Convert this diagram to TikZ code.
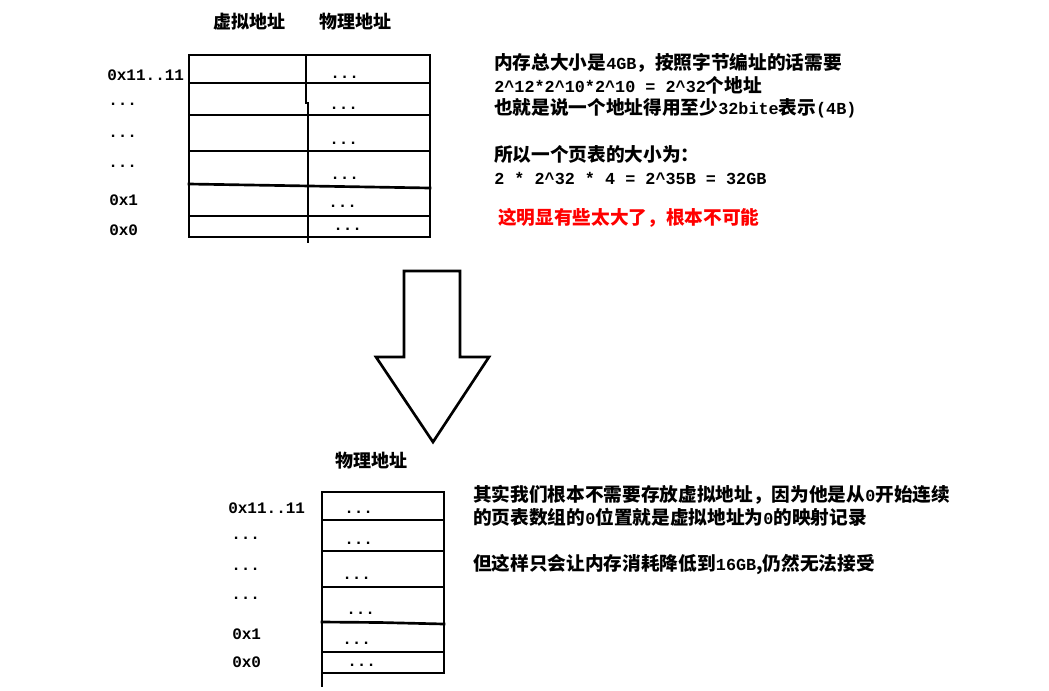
\documentclass[tikz,border=0pt]{standalone}
\usepackage{fontspec}
\setmainfont{Noto Sans CJK SC}
\newfontfamily\monofont{Liberation Mono}
\newcommand{\mm}[1]{{\monofont\fontsize{12.6}{14}\selectfont #1}}
\begin{document}
\begin{tikzpicture}[x=0.75pt,y=-0.75pt,
  tbl/.style={line width=2pt,line cap=rect},
  lbl/.style={inner sep=0pt,anchor=base west,font=\monofont\bfseries\fontsize{12}{14}\selectfont},
  hdr/.style={inner sep=0pt,font=\bfseries\fontsize{13.5}{16}\selectfont},
  txt/.style={inner sep=0pt,anchor=base west,font=\bfseries\fontsize{14}{17}\selectfont},
  bigarrow/.style={line width=2pt,line join=miter,fill=white}]
\useasboundingbox (0,0) rectangle (1049,690);
\fill[white] (0,0) rectangle (1049,690);

% ---- top table ----
\node[hdr] (hv) at (249,22) {虚拟地址};
\node[hdr] (hp) at (355,22) {物理地址};
\draw[tbl] (189,55) rectangle (430,237);
\draw[tbl] (189,83) -- (430,83);
\draw[tbl] (189,115) -- (430,115);
\draw[tbl] (189,151) -- (430,151);
\draw[tbl] (189,184) -- (280,185.5) -- (430,188);
\draw[tbl] (189,216) -- (430,216);
\draw[tbl] (306,55) -- (306,103);
\draw[tbl] (308,103) -- (308,242);

\node[lbl] (t1) at (107,80) {0x11..11};
\node[lbl] (t2) at (108,105) {...};
\node[lbl] (t3) at (108,137) {...};
\node[lbl] (t4) at (108,167) {...};
\node[lbl] (t5) at (109,205) {0x1};
\node[lbl] (t6) at (109,235) {0x0};

\node[lbl] (d1) at (330,78) {...};
\node[lbl] (d2) at (329,109) {...};
\node[lbl] (d3) at (329,144) {...};
\node[lbl] (d4) at (330,179) {...};
\node[lbl] (d5) at (328,207) {...};
\node[lbl] (d6) at (333,230) {...};

% ---- top text ----
\node[txt] (l1) at (494,69) {内存总大小是\mm{4GB}，按照字节编址的话需要};
\node[txt] (l2) at (494,92) {\mm{2\^{}12*2\^{}10*2\^{}10 = 2\^{}32}个地址};
\node[txt] (l3) at (494,114) {也就是说一个地址得用至少\mm{32bite}表示\mm{(4B)}};
\node[txt] (l4) at (494,161) {所以一个页表的大小为：};
\node[txt] (l5) at (494,184) {\mm{2 * 2\^{}32 * 4 = 2\^{}35B = 32GB}};
\node[txt,text=red] (l6) at (498,224) {这明显有些太大了，根本不可能};

% ---- arrow ----
\draw[bigarrow] (404,271) -- (460,271) -- (460,357) -- (489,357) -- (433,442)
  -- (376,357) -- (404,357) -- cycle;

% ---- bottom table ----
\node[hdr] (bp) at (371,461) {物理地址};
\draw[tbl] (322,492) rectangle (444,673);
\draw[tbl] (322,520) -- (444,520);
\draw[tbl] (322,551) -- (444,551);
\draw[tbl] (322,587) -- (444,587);
\draw[tbl] (322,622) -- (380,622.5) -- (444,624);
\draw[tbl] (322,652) -- (444,652);
\draw[tbl] (322,492) -- (322,686);

\node[lbl] (b1) at (228,513) {0x11..11};
\node[lbl] (b2) at (231,539) {...};
\node[lbl] (b3) at (231,570) {...};
\node[lbl] (b4) at (231,599) {...};
\node[lbl] (b5) at (232,639) {0x1};
\node[lbl] (b6) at (232,667) {0x0};

\node[lbl] (e1) at (344,513) {...};
\node[lbl] (e2) at (344,544) {...};
\node[lbl] (e3) at (342,579) {...};
\node[lbl] (e4) at (346,614) {...};
\node[lbl] (e5) at (342,644) {...};
\node[lbl] (e6) at (347,666) {...};

% ---- bottom text ----
\node[txt] (m1) at (473,501) {其实我们根本不需要存放虚拟地址，因为他是从\mm{0}开始连续};
\node[txt] (m2) at (473,524) {的页表数组的\mm{0}位置就是虚拟地址为\mm{0}的映射记录};
\node[txt] (m3) at (473,570) {但这样只会让内存消耗降低到\mm{16GB},仍然无法接受};
\end{tikzpicture}
\end{document}
